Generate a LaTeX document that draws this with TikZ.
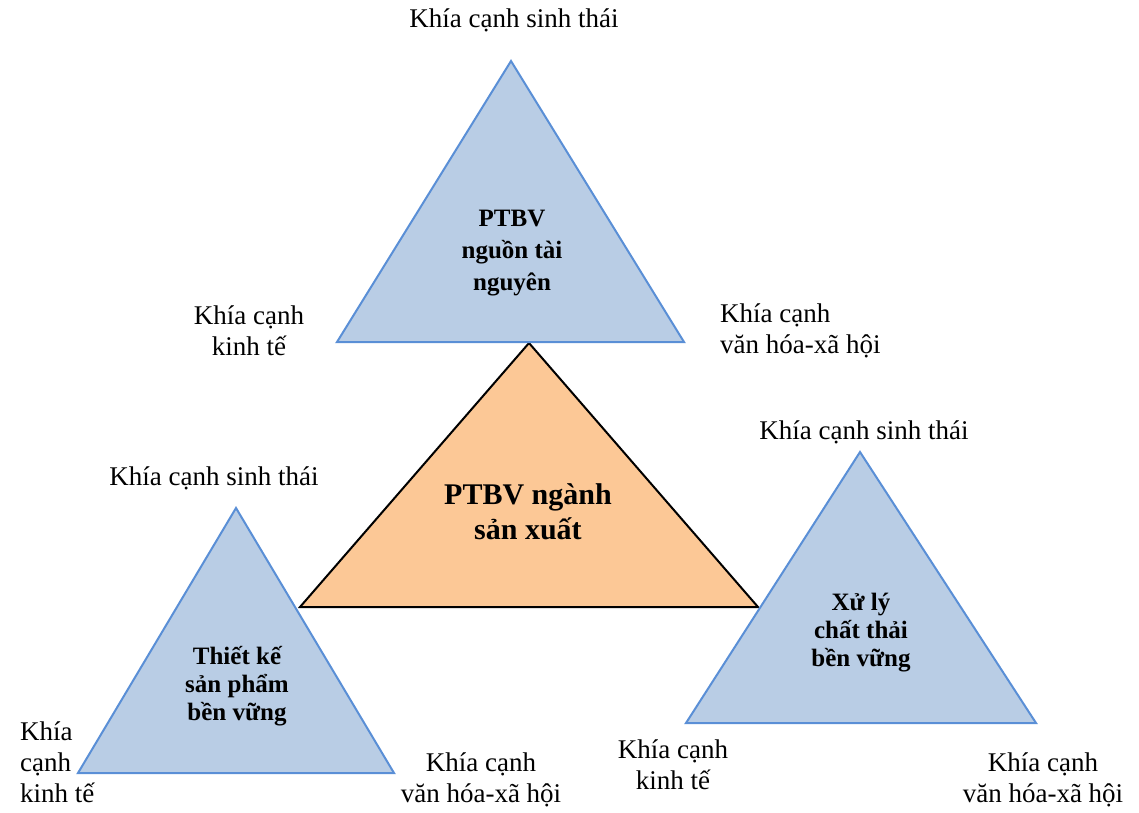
\documentclass[tikz,border=0pt]{standalone}
\usepackage{fontspec}
\setmainfont{Liberation Serif}
\begin{document}
\begin{tikzpicture}[x=1pt,y=-1pt,
  bluetri/.style={draw=triblue,fill=trifill,line width=2pt,line join=miter},
  oratri/.style={draw=black,fill=orafill,line width=2pt,line join=miter},
  lbl/.style={font=\fontsize{27}{31}\selectfont,inner sep=0pt,align=center},
  lblL/.style={lbl,align=left,anchor=west},
  inner/.style={font=\bfseries\fontsize{25}{28}\selectfont,inner sep=0pt,align=center}]
\definecolor{triblue}{HTML}{5A8FD6}
\definecolor{trifill}{HTML}{B9CDE5}
\definecolor{orafill}{HTML}{FCC896}
\useasboundingbox (0,0) rectangle (1139,812);

% vertices of the four triangles
\coordinate (ca) at (529,343); \coordinate (cl) at (300,607); \coordinate (cr) at (758,607);
\coordinate (ta) at (511,61);  \coordinate (tl) at (337,342); \coordinate (tr) at (684,342);
\coordinate (la) at (236,508); \coordinate (ll) at (78,773);  \coordinate (lr) at (394,773);
\coordinate (ra) at (860,452); \coordinate (rl) at (686,723); \coordinate (rr) at (1036,723);

% central triangle first, the three around it on top
\draw[oratri] (ca) -- (cl) -- (cr) -- cycle;
\draw[bluetri] (ta) -- (tl) -- (tr) -- cycle;
\draw[bluetri] (la) -- (ll) -- (lr) -- cycle;
\draw[bluetri] (ra) -- (rl) -- (rr) -- cycle;

% titles inside the triangles
\node[inner,font=\bfseries\fontsize{30}{35}\selectfont] (center) at (528,512) {PTBV ngành\\sản xuất};
\node[inner,font=\bfseries\fontsize{25}{32}\selectfont] (top) at (512,253) {PTBV\\nguồn tài\\nguyên};
\node[inner] (left) at (237,686) {Thiết kế\\sản phẩm\\bền vững};
\node[inner] (right) at (861,633) {Xử lý\\chất thải\\bền vững};

% corner labels, top triangle
\node[lbl] (topS) at (514,20) {Khía cạnh sinh thái};
\node[lbl] (topE) at (249,331) {Khía cạnh\\kinh tế};
\node[lblL] (topV) at (720,331) {Khía cạnh\\văn hóa-xã hội};

% corner labels, lower left triangle
\node[lbl] (leftS) at (214,478) {Khía cạnh sinh thái};
\node[lblL] (leftE) at (20,762) {Khía\\cạnh\\kinh tế};
\node[lbl] (leftV) at (481,780) {Khía cạnh\\văn hóa-xã hội};

% corner labels, lower right triangle
\node[lbl] (rightS) at (864,432) {Khía cạnh sinh thái};
\node[lbl] (rightE) at (673,765) {Khía cạnh\\kinh tế};
\node[lbl] (rightV) at (1043,780) {Khía cạnh\\văn hóa-xã hội};
\end{tikzpicture}
\end{document}
